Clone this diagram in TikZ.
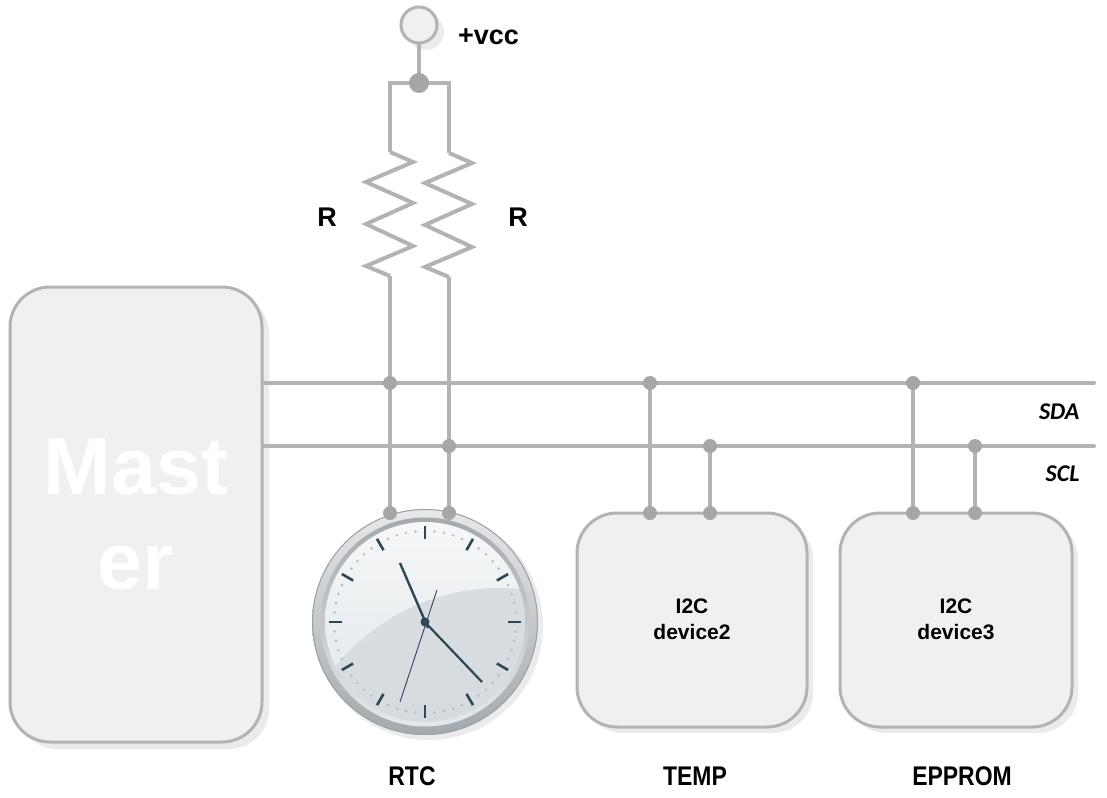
\documentclass[tikz,border=0pt]{standalone}
\usepackage{fontspec}
\usepackage{graphicx}
\setmainfont{Liberation Sans}
\newfontfamily\calibfont{Carlito}
\usetikzlibrary{calc}

\definecolor{wirec}{HTML}{B3B3B3}
\definecolor{dotc}{HTML}{A6A6A6}
\definecolor{boxfill}{HTML}{F0F0F0}
\definecolor{shadowc}{HTML}{EBEBEB}
\definecolor{handc}{HTML}{2F4754}
\definecolor{minc}{HTML}{B4BEC4}
\definecolor{faceTop}{HTML}{F5F7F8}
\definecolor{faceBot}{HTML}{E2E6E9}
\definecolor{faceDark}{HTML}{D3D9DD}
\definecolor{rimLight}{HTML}{E6E8EA}
\definecolor{rimDark}{HTML}{A4A9AD}
\definecolor{rimEdge}{HTML}{9CA1A5}

\tikzset{
  wire/.style={draw=wirec, line width=4pt, line join=miter},
  devbox/.style={draw=wirec, fill=boxfill, line width=3pt, rounded corners=40pt,
                 rectangle, inner sep=0pt},
  boxshadow/.style={fill=shadowc, rounded corners=40pt},
  lbl/.style={font=\bfseries\fontsize{21}{26}\selectfont, align=center},
  buslbl/.style={anchor=east, font=\calibfont\bfseries\itshape\fontsize{24}{24}\selectfont},
  partlbl/.style={font=\bfseries\fontsize{27}{27}\selectfont},
}

\begin{document}
\begin{tikzpicture}[x=1pt,y=-1pt]
\useasboundingbox[fill=white] (0,0) rectangle (1107,797);

% ---------- master ----------
\fill[boxshadow] (17,294) rectangle (269,749);
\node[devbox, minimum width=252pt, minimum height=455pt, text=white,
      font=\bfseries\fontsize{81}{95}\selectfont, align=center]
      (master) at (136,514.5) {Mast\\er};

% ---------- slave boxes ----------
\fill[boxshadow] (583,519) rectangle (813,733);
\node[devbox, minimum width=230pt, minimum height=214pt] (dev2) at (692,620) {};
\node[lbl] (dev2t) at (692,619) {I2C\\device2};

\fill[boxshadow] (846,519) rectangle (1078,733);
\node[devbox, minimum width=232pt, minimum height=214pt] (dev3) at (956,620) {};
\node[lbl] (dev3t) at (956,619) {I2C\\device3};

% ---------- clock (RTC) ----------
\coordinate (clk) at (425,622);
\fill[shadowc] (429,626) circle (114);
\shade[top color=rimLight, bottom color=rimDark] (clk) circle (113);
\draw[rimEdge, line width=1pt] (clk) circle (112.5);
\shade[top color=rimDark, bottom color=rimLight] (clk) circle (104.5);
\shade[top color=faceTop, bottom color=faceBot] (clk) circle (100);
\begin{scope}
  \clip (clk) circle (100);
  \fill[faceDark, opacity=0.8] (500,800) circle (212);
\end{scope}
\foreach \i in {0,...,59} {
  \pgfmathtruncatemacro{\m}{mod(\i,5)}
  \ifnum\m>0
    \fill[minc] ($(clk)+(\i*6:91)$) circle (1.4pt);
  \fi
}
\foreach \i in {0,...,11}
  \draw[handc, line width=2.6pt] ($(clk)+(\i*30:83)$) -- ($(clk)+(\i*30:96)$);
\draw[handc, line width=2.4pt] ($(clk)+(3,6)$) -- ($(clk)+(-25,-59)$);
\draw[handc, line width=2.2pt] ($(clk)+(-3,-3)$) -- ($(clk)+(57,60)$);
\draw[handc, line width=0.9pt] ($(clk)+(12,-32)$) -- ($(clk)+(-25,80)$);
\fill[handc] (clk) circle (4.5);

% ---------- supply and pull-up resistors ----------
\fill[shadowc] (426,32) circle (18);
\node[circle, draw=wirec, fill=boxfill, line width=3pt, minimum size=36pt, inner sep=0pt]
      (vcc) at (419,25) {};
\node[font=\bfseries\fontsize{27}{27}\selectfont, anchor=base west, inner sep=0pt]
      (vcclbl) at (458,45) {+vcc};

\coordinate (jn) at (419,83);
\coordinate (r1top) at (390,152);
\coordinate (r2top) at (449,153);
\coordinate (r1bot) at (390,276);
\coordinate (r2bot) at (449,277);

\draw[wire] (vcc.south) -- (jn);
\draw[wire] (r1top) -- (r1top |- jn) -- (r2top |- jn) -- (r2top);
\draw[wire] (r1top) -- ++(23,10) -- ++(-47,20) -- ++(47,21) -- ++(-47,21)
            -- ++(47,22) -- ++(-47,20) -- (r1bot);
\draw[wire] (r2top) -- ++(23,10) -- ++(-47,20) -- ++(47,21) -- ++(-47,21)
            -- ++(47,22) -- ++(-47,20) -- (r2bot);
\fill[dotc] (jn) circle (10);

\node[font=\bfseries\fontsize{27}{27}\selectfont] (rlblA) at (327,217) {R};
\node[font=\bfseries\fontsize{27}{27}\selectfont] (rlblB) at (518,217) {R};

% ---------- bus lines ----------
\coordinate (sdaL) at (master.east |- 0,383);
\coordinate (sclL) at (master.east |- 0,446);
\coordinate (sdaR) at (1094,383);
\coordinate (sclR) at (1094,446);
\draw[wire, line cap=round] (sdaL) -- (sdaR);
\draw[wire, line cap=round] (sclL) -- (sclR);

% taps on the bus
\coordinate (t1) at (390,383);  \coordinate (c1) at (390,513);
\coordinate (t2) at (449,446);  \coordinate (c2) at (449,513);
\coordinate (t3) at (650,383);  \coordinate (c3) at (650,513);
\coordinate (t4) at (710,446);  \coordinate (c4) at (710,513);
\coordinate (t5) at (913,383);  \coordinate (c5) at (913,513);
\coordinate (t6) at (975,446);  \coordinate (c6) at (975,513);

\draw[wire] (r1bot) -- (c1);
\draw[wire] (r2bot) -- (c2);
\draw[wire] (t3) -- (c3);
\draw[wire] (t4) -- (c4);
\draw[wire] (t5) -- (c5);
\draw[wire] (t6) -- (c6);

\foreach \p in {t1,t2,t3,t4,t5,t6,c1,c2,c3,c4,c5,c6}
  \fill[dotc] (\p) circle (7);

\node[buslbl] (sdalbl) at (1083,412) {SDA};
\node[buslbl] (scllbl) at (1083,474) {SCL};

% ---------- part names ----------
\node[partlbl] (rtc)  at (412,776) {\scalebox{0.85}[1]{RTC}};
\node[partlbl] (temp) at (695,776) {\scalebox{0.85}[1]{TEMP}};
\node[partlbl] (eep)  at (962,776) {\scalebox{0.85}[1]{EPPROM}};
\end{tikzpicture}
\end{document}
